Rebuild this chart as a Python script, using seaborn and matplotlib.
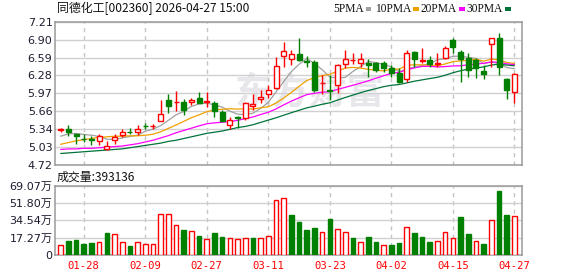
import numpy as np
import pandas as pd
import matplotlib
matplotlib.use('Agg')
import matplotlib.pyplot as plt
from matplotlib.patches import Rectangle
import seaborn as sns

# ---------------- data ----------------
title = "同德化工[002360] 2026-04-27 15:00"
opens = [5.33, 5.35, 5.25, 5.18, 5.17, 5.14, 4.99, 5.15, 5.24, 5.30,
         5.30, 5.40, 5.39, 5.49, 5.85, 5.81, 5.81, 5.81, 5.89, 5.82,
         5.79, 5.64, 5.42, 5.55, 5.54, 5.74, 5.86, 5.95, 6.06, 6.62,
         6.57, 6.65, 6.52, 6.51, 6.14, 6.02, 6.11, 6.47, 6.54, 6.50,
         6.50, 6.50, 6.49, 6.40, 6.32, 6.22, 6.68, 6.53, 6.55, 6.48,
         6.58, 6.89, 6.68, 6.58, 6.54, 6.36, 6.82, 6.92, 6.21, 5.98]
highs = [5.37, 5.42, 5.26, 5.26, 5.22, 5.25, 5.13, 5.26, 5.35, 5.37,
         5.41, 5.45, 5.43, 5.85, 5.95, 6.01, 5.86, 5.89, 5.99, 5.99,
         5.84, 5.67, 5.55, 5.58, 5.82, 5.95, 6.02, 6.11, 6.60, 6.85,
         6.72, 6.92, 6.61, 6.54, 6.28, 6.29, 6.48, 6.72, 6.66, 6.66,
         6.57, 6.51, 6.52, 6.46, 6.41, 6.72, 6.70, 6.75, 6.61, 6.66,
         6.79, 6.92, 6.71, 6.66, 6.58, 6.46, 6.93, 7.01, 6.24, 6.31]
lows = [5.29, 5.22, 5.09, 5.12, 5.06, 5.06, 4.98, 5.09, 5.20, 5.26,
        5.24, 5.34, 5.35, 5.48, 5.62, 5.66, 5.59, 5.76, 5.79, 5.72,
        5.56, 5.47, 5.34, 5.36, 5.50, 5.67, 5.79, 5.88, 6.04, 6.43,
        6.45, 6.53, 6.43, 5.99, 5.96, 5.85, 5.97, 6.40, 6.47, 6.43,
        6.25, 6.33, 6.33, 6.25, 6.15, 6.17, 6.43, 6.50, 6.43, 6.43,
        6.57, 6.67, 6.16, 6.25, 6.24, 6.21, 6.42, 6.29, 5.86, 5.80]
closes = [5.34, 5.29, 5.23, 5.17, 5.16, 5.23, 5.05, 5.21, 5.30, 5.29,
          5.34, 5.39, 5.40, 5.60, 5.75, 5.82, 5.68, 5.85, 5.80, 5.83,
          5.66, 5.49, 5.50, 5.54, 5.79, 5.78, 5.91, 6.02, 6.44, 6.70,
          6.65, 6.54, 6.51, 6.03, 6.15, 6.01, 6.46, 6.56, 6.55, 6.57,
          6.45, 6.37, 6.41, 6.32, 6.16, 6.66, 6.57, 6.54, 6.48, 6.49,
          6.76, 6.77, 6.56, 6.37, 6.40, 6.30, 6.92, 6.42, 6.03, 6.30]
volumes = [9.6, 14.0, 15.0, 11.0, 12.0, 12.6, 21.9, 20.6, 12.6, 9.0,
           12.6, 11.0, 11.0, 40.5, 40.5, 29.6, 24.9, 23.6, 18.9, 15.6,
           21.9, 17.9, 16.6, 15.6, 16.6, 16.9, 16.6, 18.6, 54.5, 56.5,
           39.9, 32.9, 24.9, 26.9, 22.6, 35.9, 25.6, 22.6, 16.9, 13.0,
           17.9, 13.0, 9.6, 10.0, 12.0, 27.6, 21.9, 17.9, 13.0, 13.6,
           22.6, 16.6, 37.9, 20.9, 13.6, 11.0, 34.6, 63.8, 39.9, 39.31]
ma5 = [5.22, 5.26, 5.27, 5.25, 5.238, 5.216, 5.168, 5.164, 5.19, 5.216,
       5.238, 5.306, 5.344, 5.404, 5.496, 5.592, 5.65, 5.74, 5.78, 5.796,
       5.764, 5.726, 5.656, 5.604, 5.596, 5.62, 5.704, 5.808, 5.988, 6.17,
       6.344, 6.47, 6.568, 6.486, 6.376, 6.248, 6.232, 6.242, 6.346, 6.43,
       6.518, 6.50, 6.47, 6.424, 6.342, 6.384, 6.424, 6.45, 6.482, 6.548,
       6.568, 6.608, 6.612, 6.59, 6.572, 6.48, 6.51, 6.482, 6.414, 6.394]
ma10 = [5.08, 5.11, 5.14, 5.16, 5.18, 5.20, 5.21, 5.22, 5.22, 5.227,
        5.227, 5.237, 5.254, 5.297, 5.356, 5.415, 5.478, 5.542, 5.592, 5.646,
        5.678, 5.688, 5.698, 5.692, 5.696, 5.692, 5.715, 5.732, 5.796, 5.883,
        5.982, 6.087, 6.188, 6.237, 6.273, 6.296, 6.351, 6.405, 6.416, 6.403,
        6.383, 6.366, 6.356, 6.385, 6.386, 6.451, 6.462, 6.46, 6.453, 6.445,
        6.476, 6.516, 6.531, 6.536, 6.56, 6.524, 6.559, 6.547, 6.502, 6.483]
ma20 = [4.99, 5.00, 5.00, 5.01, 5.01, 5.02, 5.03, 5.04, 5.05, 5.07,
        5.09, 5.12, 5.15, 5.19, 5.23, 5.28, 5.32, 5.36, 5.40, 5.436,
        5.453, 5.463, 5.476, 5.495, 5.526, 5.554, 5.597, 5.637, 5.694, 5.765,
        5.83, 5.888, 5.943, 5.965, 5.985, 5.994, 6.033, 6.069, 6.106, 6.143,
        6.183, 6.227, 6.272, 6.311, 6.33, 6.374, 6.407, 6.433, 6.435, 6.424,
        6.43, 6.441, 6.444, 6.461, 6.473, 6.488, 6.511, 6.504, 6.478, 6.464]
ma30 = [4.92, 4.93, 4.94, 4.95, 4.96, 4.97, 4.98, 4.99, 5.00, 5.02,
        5.04, 5.06, 5.08, 5.10, 5.13, 5.15, 5.18, 5.21, 5.24, 5.27,
        5.29, 5.31, 5.34, 5.37, 5.39, 5.42, 5.46, 5.50, 5.54, 5.585,
        5.629, 5.671, 5.713, 5.742, 5.775, 5.801, 5.848, 5.893, 5.935, 5.977,
        6.014, 6.047, 6.081, 6.105, 6.118, 6.146, 6.176, 6.199, 6.222, 6.244,
        6.28, 6.323, 6.358, 6.386, 6.406, 6.424, 6.457, 6.471, 6.457, 6.444]
ma_names = ['5PMA', '10PMA', '20PMA', '30PMA']
ma_colors = ['#a0a0a0', '#f0a000', '#ff00ff', '#00733a']
price_labels = ['4.72', '5.03', '5.34', '5.66', '5.97', '6.28', '6.59', '6.90', '7.21']
price_min, price_max = 4.72, 7.21
vol_labels = ['0', '17.27万', '34.54万', '51.80万', '69.07万']
vol_max = 69.07
date_idx = [3, 11, 19, 27, 35, 43, 51, 59]
date_labels = ['01-28', '02-09', '02-27', '03-11', '03-23', '04-02', '04-15', '04-27']
last_volume = '393136'

# ---------------- style ----------------
sns.set_theme(style='white')
plt.rcParams['font.family'] = ['DejaVu Sans', 'Noto Sans CJK SC']
plt.rcParams['axes.linewidth'] = 1.1

RED = '#ff0000'
GREEN = '#008000'
GRID = '#d0d0d0'
SPINE = '#9a9a9a'
LABEL = '#1c1c30'

W, H = 578, 276
fig = plt.figure(figsize=(W / 100, H / 100), dpi=100)
fig.patch.set_facecolor('white')


def rect(l, t, r, b):
    return [l / W, 1 - b / H, (r - l) / W, (b - t) / H]


axp = fig.add_axes(rect(55, 21.7, 522, 165))
axv = fig.add_axes(rect(55, 185.7, 522, 255))

n = len(closes)
x = np.arange(n)
o = np.array(opens); c = np.array(closes)
hi = np.array(highs); lo = np.array(lows)
up = c >= o
cols = np.where(up, RED, GREEN)
faces = np.where(up, 'white', GREEN)

# volume colour: close vs previous close
vol_up = np.concatenate([[up[0]], c[1:] >= c[:-1]])
vcols = np.where(vol_up, RED, GREEN)
vfaces = np.where(vol_up, 'white', GREEN)

# ---------------- price panel ----------------
axp.set_xlim(-0.74, n - 0.01)
axp.set_ylim(price_min, price_max)
axp.set_yticks(np.linspace(price_min, price_max, len(price_labels)))
axp.set_yticklabels(price_labels)
axp.set_xticks(date_idx)
axp.set_xticklabels([])
axp.grid(axis='y', color=GRID, lw=1.0, ls='-')
axp.grid(axis='x', color='#c4c4c4', lw=1.0, ls=(0, (3, 3)))
axp.set_axisbelow(True)

axp.text(0.545, 0.5, '东方财富', transform=axp.transAxes, fontsize=27,
         color='#e7e7eb', ha='center', va='center', weight='bold',
         family=['Noto Sans CJK SC'], zorder=0.5)

ma_df = pd.DataFrame({
    'x': np.tile(x, 4),
    'value': np.concatenate([ma5, ma10, ma20, ma30]),
    'ma': np.repeat(ma_names, n),
})
sns.lineplot(data=ma_df, x='x', y='value', hue='ma', hue_order=ma_names,
             palette=dict(zip(ma_names, ma_colors)), estimator=None,
             legend=False, ax=axp, linewidth=0.9, zorder=2)

axp.vlines(x, lo, hi, colors=cols, linewidth=1.0, zorder=3)
body_bottom = np.minimum(o, c)
body_h = np.maximum(np.abs(c - o), 0.004)
axp.bar(x, body_h, bottom=body_bottom, width=0.65, color=faces,
        edgecolor=cols, linewidth=1.0, zorder=4)

# ---------------- volume panel ----------------
axv.set_xlim(-0.74, n - 0.01)
axv.set_ylim(0, vol_max)
axv.set_yticks(np.linspace(0, vol_max, len(vol_labels)))
axv.set_yticklabels(vol_labels)
axv.set_xticks(date_idx)
axv.set_xticklabels(date_labels, color=RED, family='DejaVu Sans Mono', fontsize=7.6)
axv.grid(axis='y', color=GRID, lw=1.0, ls='-')
axv.grid(axis='x', color='#c4c4c4', lw=1.0, ls=(0, (3, 3)))
axv.set_axisbelow(True)
axv.bar(x, volumes, width=0.6, color=vfaces, edgecolor=vcols, linewidth=1.0, zorder=3)

for ax in (axp, axv):
    ax.set_xlabel('')
    ax.set_ylabel('')
    for s in ax.spines.values():
        s.set_color(SPINE)
        s.set_linewidth(1.1)
    ax.tick_params(axis='y', length=0, pad=1.8, labelsize=8, labelcolor=LABEL)
    ax.tick_params(axis='x', length=0, pad=4.5)

# ---------------- texts ----------------
fig.text(57 / W, 1 - 8.5 / H, title, fontsize=8.6, ha='left', va='center',
         color='#111111', family=['Noto Sans CJK SC', 'DejaVu Sans'])
fig.text(57 / W, 1 - 177.5 / H, '成交量:' + last_volume, fontsize=8.6, ha='left',
         va='center', color='#111111', family=['Noto Sans CJK SC', 'DejaVu Sans'])

leg_box_x = [365.5, 413, 459, 505]
for name, col, bx in zip(ma_names, ma_colors, leg_box_x):
    fig.text((bx - 2.0) / W, 1 - 8.5 / H, name, fontsize=8.3, ha='right', va='center',
             color='#111111', family='Liberation Serif')
    fig.patches.append(Rectangle((bx / W, 1 - 10.5 / H), 5.5 / W, 4 / H,
                                 transform=fig.transFigure, facecolor=col,
                                 edgecolor='none'))

fig.savefig('out.png', dpi=100)
